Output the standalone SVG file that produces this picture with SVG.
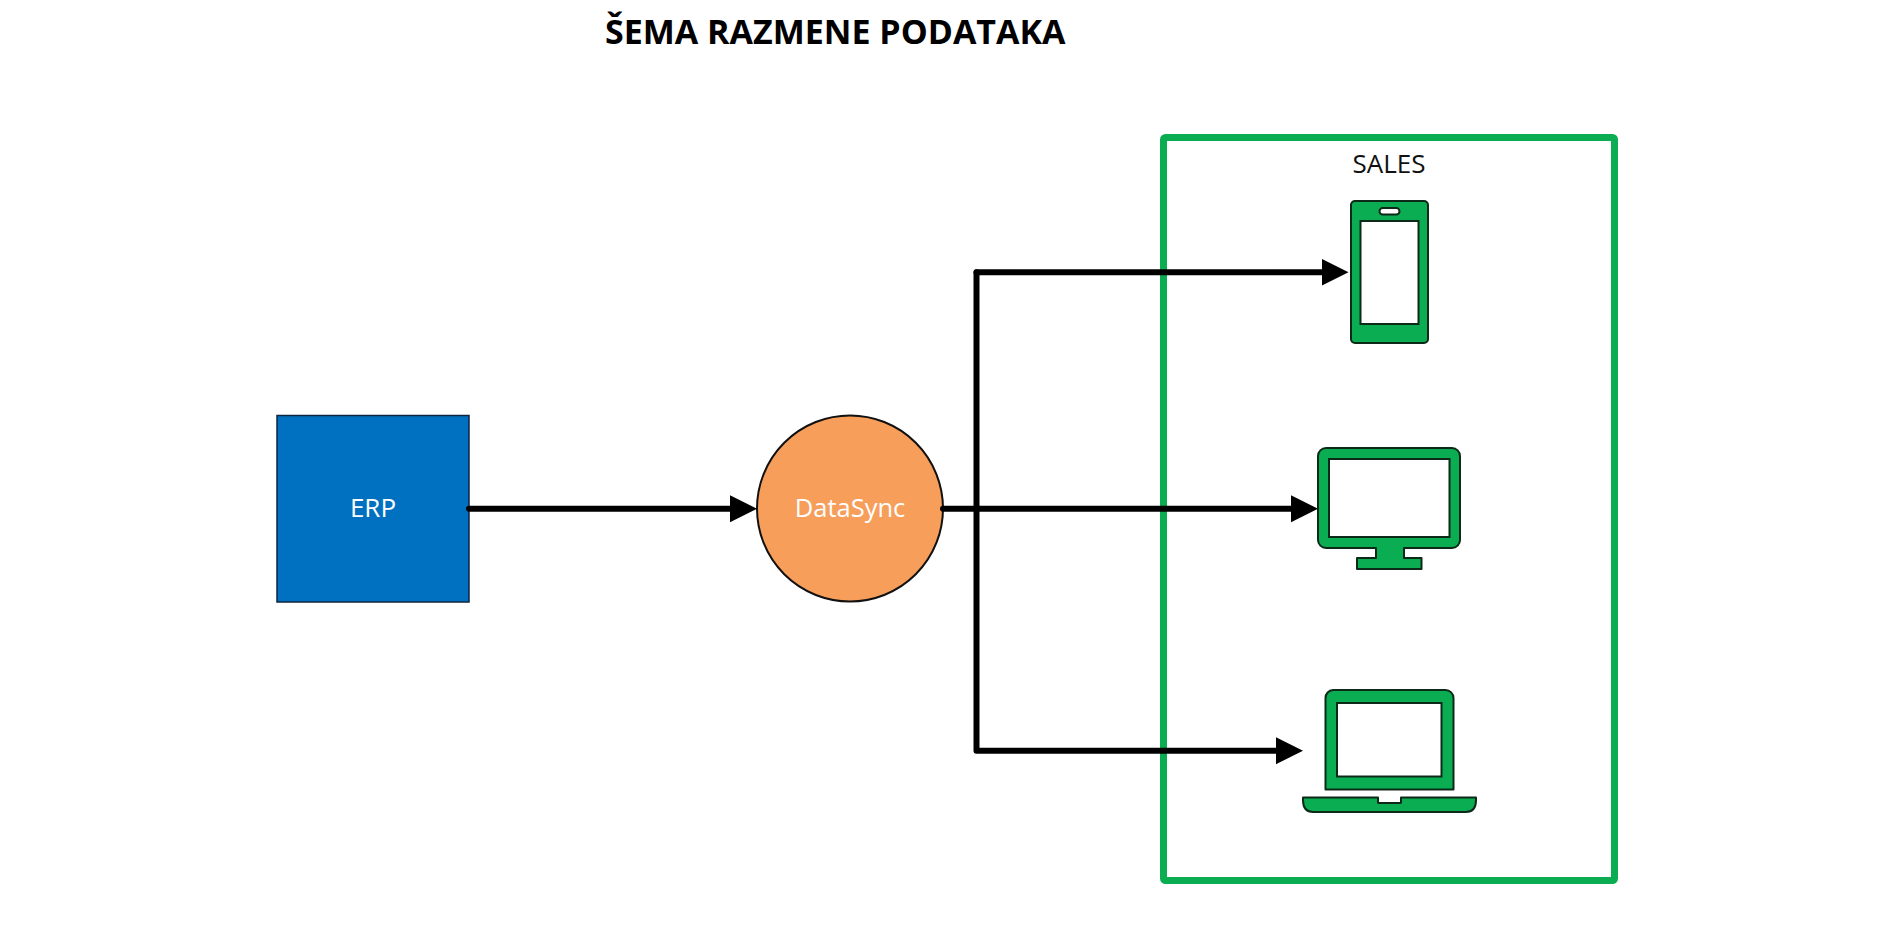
<svg xmlns="http://www.w3.org/2000/svg" width="1900" height="935" viewBox="0 0 1900 935">
<style>
text{font-family:"Open Sans","Liberation Sans",sans-serif}
.dev{fill:#0BAD52;stroke:#0d2a18;stroke-width:2;stroke-linejoin:round}
.scr{fill:#fff;stroke:#0d2a18;stroke-width:2}
.con{fill:none;stroke:#000;stroke-width:6;stroke-linecap:round;stroke-linejoin:round}
</style>
<defs>
<marker id="arrow" markerUnits="userSpaceOnUse" markerWidth="28" markerHeight="28" refX="0" refY="14" orient="auto"><path d="M0 .5L27 14L0 27.500Z" fill="#000"/></marker>
</defs>
<rect width="1900" height="935" fill="#fff"/>
<text id="title" x="605" y="44" font-size="34" font-weight="700" fill="#000">ŠEMA RAZMENE PODATAKA</text>
<g id="sales">
<rect x="1163.500" y="137.500" width="451" height="743" rx="2" fill="none" stroke="#0BAD52" stroke-width="7" stroke-linejoin="round"/>
<text x="1389" y="173" font-size="26" text-anchor="middle" fill="#111">SALES</text>
</g>
<g id="erp">
<rect x="277" y="415.500" width="192" height="186.500" fill="#0070C0" stroke="#10253f" stroke-width="1.500"/>
<text x="373" y="517" font-size="26" text-anchor="middle" fill="#fff">ERP</text>
</g>
<g id="datasync">
<circle cx="850" cy="508.500" r="93" fill="#F69E5A" stroke="#111" stroke-width="2"/>
<text x="850" y="517" font-size="25.500" text-anchor="middle" fill="#fff">DataSync</text>
</g>
<g id="phone">
<rect class="dev" x="1351" y="201" width="77" height="142" rx="4"/>
<rect class="scr" x="1360.500" y="221" width="58" height="103"/>
<rect class="scr" x="1379.500" y="208" width="20" height="6.500" rx="3.250"/>
</g>
<g id="monitor">
<path class="dev" d="M1326 448H1452A8 8 0 0 1 1460 456V540A8 8 0 0 1 1452 548H1404V558H1421.500V569H1357V558H1376V548H1326A8 8 0 0 1 1318 540V456A8 8 0 0 1 1326 448Z"/>
<rect class="scr" x="1329" y="459" width="120.500" height="78"/>
</g>
<g id="laptop">
<path class="dev" d="M1333 690H1445.500A8 8 0 0 1 1453.500 698V789.500H1325.500V698A8 8 0 0 1 1333 690Z"/>
<rect class="scr" x="1337" y="703" width="104.500" height="73.500"/>
<path class="dev" d="M1303 797.500H1378V802.500Q1378 803 1380 803H1399Q1401 803 1401 802.500V797.500H1476V800Q1476 812 1466 812H1313Q1303 812 1303 800Z"/>
</g>
<g id="connectors">
<path class="con" marker-end="url(#arrow)" d="M469 508.700H730"/>
<path class="con" marker-end="url(#arrow)" d="M943 508.700H1291"/>
<path class="con" marker-end="url(#arrow)" d="M976.500 272.300H1321.500"/>
<path class="con" marker-end="url(#arrow)" d="M976.500 272.300V750.700H1276"/>
</g>
</svg>
